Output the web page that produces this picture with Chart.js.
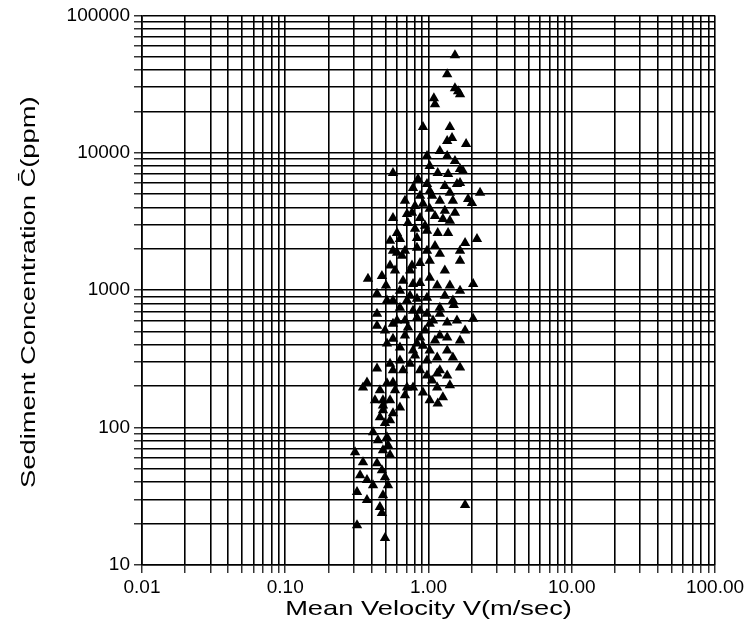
<!DOCTYPE html>
<html>
<head>
<meta charset="utf-8">
<script src="https://cdn.jsdelivr.net/npm/chart.js@4.4.1/dist/chart.umd.min.js"></script>
<style>
  html, body { margin: 0; padding: 0; background: #fff; }
  #wrap { width: 752px; height: 639px; position: relative; }
</style>
</head>
<body>
<div id="wrap"><canvas id="chart"></canvas></div>
<script>
// Mean velocity V (m/sec)
const velocity = [
  1.53, 1.35, 1.53, 1.61, 1.66, 1.09, 1.11, 0.915,
  1.41, 1.35, 1.46, 1.83, 0.976, 1.35, 0.565, 1.74,
  1.16, 1.37, 2.29, 2.01, 1.48, 0.780, 0.565, 0.708,
  1.66, 1.66, 1.58, 0.976, 1.89, 1.20, 0.915, 0.767,
  1.02, 0.719, 0.873, 1.16, 0.976, 0.831, 0.539, 0.632,
  1.80, 2.18, 1.66, 0.976, 0.603, 0.539, 1.66, 0.378,
  0.473, 0.664, 0.873, 1.02, 1.41, 2.05, 0.437, 1.48,
  1.50, 1.20, 2.05, 0.437, 0.437, 0.565, 0.719, 0.632,
  0.780, 0.976, 1.20, 1.35, 0.513, 0.632, 0.831, 1.02,
  1.15, 1.48, 0.976, 0.539, 0.437, 0.743, 1.66, 0.976,
  1.15, 1.35, 0.565, 0.372, 0.349, 0.458, 0.780, 1.15,
  0.539, 0.915, 1.26, 0.481, 0.565, 0.481, 0.632, 1.16,
  0.458, 0.539, 0.410, 0.513, 0.522, 0.481, 0.307, 0.349,
  0.437, 0.473, 0.497, 0.372, 0.317, 0.481, 0.372, 0.458,
  0.473, 1.80, 0.317, 0.497, 0.565, 0.653, 0.831, 1.02,
  1.20, 0.780, 0.632, 0.513, 0.708, 0.976, 1.20, 0.603,
  0.831, 1.02, 1.58, 0.873, 1.35, 0.565, 1.20, 0.513,
  0.708, 0.481, 1.02, 1.30, 1.11, 0.873, 0.805, 1.30,
  0.946, 1.41, 0.685, 0.767, 1.30, 0.685, 0.915, 1.11,
  0.805, 0.632, 1.06, 0.873, 0.743,
  0.845, 1.06, 1.41, 0.685, 1.26, 1.53, 0.805, 1.11,
  1.37, 0.603, 0.505, 0.584, 0.743, 0.873, 1.15, 1.30,
  1.66, 0.831, 0.565, 0.497, 0.565, 0.685, 0.780, 0.946,
  1.075, 1.35, 1.66, 1.80, 0.664, 0.873, 1.41, 0.584,
  1.02, 0.685, 0.423, 0.497, 0.444, 0.539, 0.410, 0.522,
  0.333, 1.20, 1.02, 1.53
];
// Sediment concentration C (ppm), same order
const concentration = [
  51300, 37300, 29500, 28100, 26700, 24900, 22600, 15400,
  15400, 12200, 12800, 11600, 9470, 9470, 7130, 7370,
  7130, 7010, 5110, 4320, 4470, 5550, 3360, 3590,
  7620, 6030, 5930, 5930, 4620, 4470, 4250, 3660,
  3910, 3090, 3360, 2610, 2710, 2400, 2290, 2360,
  2210, 2360, 1940, 1940, 1870, 1510, 1640, 1210,
  1270, 1170, 1130, 1230, 1080, 1110, 944, 840,
  780, 675, 621, 675, 552, 571, 535, 746,
  710, 675, 468, 452, 409, 383, 409, 364,
  324, 324, 308, 292, 269, 292, 274, 239,
  248, 239, 213, 213, 196, 187, 196, 196,
  158, 180, 166, 134, 127, 145, 140, 150,
  119, 113, 92.5, 85.1, 74.5, 68.4, 66.2, 56.0,
  55.1, 49.0, 43.6, 41.5, 34.0, 32.2, 29.7, 26.4,
  23.9, 27.3, 19.5, 15.7, 1940, 1780, 2040, 1640,
  1840, 1110, 992, 840, 840, 882, 746, 601,
  631, 571, 601, 452, 364, 261, 261, 210,
  196, 158, 5280, 5740, 3470, 4860, 4100, 3780,
  2940, 3200, 1940, 1510, 1390, 601, 395, 430,
  335, 308, 220, 710, 912,
  6440, 4860, 5110, 4470, 3300, 3660, 2800, 2100,
  2610, 2610, 1080, 1390, 1390, 1580, 1080, 912,
  992, 867, 840, 509, 444, 468, 364, 509,
  601, 581, 430, 509, 261, 261, 203, 187,
  158, 172, 158, 108, 80.9, 63.1, 38.1, 38.1,
  45.0, 10300, 8020, 8710
];

// grid lines at every 1..9 of each decade
const xTicks = [
  0.01, 0.02, 0.03, 0.04, 0.05, 0.06, 0.07, 0.08, 0.09,
  0.1, 0.2, 0.3, 0.4, 0.5, 0.6, 0.7, 0.8, 0.9,
  1, 2, 3, 4, 5, 6, 7, 8, 9,
  10, 20, 30, 40, 50, 60, 70, 80, 90, 100
];
const yTicks = [
  10, 20, 30, 40, 50, 60, 70, 80, 90,
  100, 200, 300, 400, 500, 600, 700, 800, 900,
  1000, 2000, 3000, 4000, 5000, 6000, 7000, 8000, 9000,
  10000, 20000, 30000, 40000, 50000, 60000, 70000, 80000, 90000, 100000
];
const xLabels = { 0.01: "0.01", 0.1: "0.10", 1: "1.00", 10: "10.00", 100: "100.00" };
const yLabels = { 10: "10", 100: "100", 1000: "1000", 10000: "10000", 100000: "100000" };

const X_TITLE = "Mean Velocity V(m/sec)";
const Y_TITLE = "Sediment Concentration C\u0304(ppm)";

const points = velocity.map((v, i) => ({ x: v, y: concentration[i] }));

// axis titles drawn by hand: the original lettering is set wide
const TITLE_FONT = "21px 'Liberation Sans', Arial, sans-serif";
const TITLE_STRETCH = 1.3;
const titlePlugin = {
  id: "wideTitles",
  afterDraw(chart) {
    const ctx = chart.ctx;
    const area = chart.chartArea;
    ctx.save();
    ctx.fillStyle = "#000";
    ctx.font = TITLE_FONT;
    ctx.textAlign = "center";
    ctx.textBaseline = "middle";

    ctx.save();
    ctx.translate((area.left + area.right) / 2, 609);
    ctx.scale(TITLE_STRETCH, 1);
    ctx.fillText(X_TITLE, 0, 0);
    ctx.restore();

    ctx.translate(29, (area.top + area.bottom) / 2 + 2);
    ctx.rotate(-Math.PI / 2);
    ctx.scale(TITLE_STRETCH, 1);
    ctx.fillText(Y_TITLE, 0, 0);
    ctx.restore();
  }
};

const gridOpts = {
  color: "#000",
  lineWidth: 1.6,
  tickLength: 8,
  tickColor: "#000",
  tickWidth: 1.2
};

new Chart(document.getElementById("chart"), {
  type: "scatter",
  data: {
    datasets: [{
      data: points,
      pointStyle: "triangle",
      pointRadius: 6,
      pointHoverRadius: 6,
      backgroundColor: "#000",
      borderColor: "#000",
      borderWidth: 0
    }]
  },
  options: {
    responsive: true,
    maintainAspectRatio: false,
    animation: false,
    layout: { padding: { top: 14, right: 37, left: 0, bottom: 0 } },
    plugins: { legend: { display: false }, tooltip: { enabled: false } },
    scales: {
      x: {
        type: "logarithmic",
        min: 0.01,
        max: 100,
        afterBuildTicks: s => { s.ticks = xTicks.map(v => ({ value: v })); },
        afterFit: s => { s.height = 74; },
        grid: gridOpts,
        border: { color: "#000", width: 1.6 },
        ticks: {
          autoSkip: false,
          maxRotation: 0,
          padding: 3,
          color: "#000",
          font: { family: "'Liberation Sans', Arial, sans-serif", size: 19 },
          callback: v => xLabels[v] || ""
        }
      },
      y: {
        type: "logarithmic",
        min: 10,
        max: 100000,
        afterBuildTicks: s => { s.ticks = yTicks.map(v => ({ value: v })); },
        afterFit: s => { s.width = 142; },
        grid: gridOpts,
        border: { color: "#000", width: 1.6 },
        ticks: {
          autoSkip: false,
          padding: 4,
          color: "#000",
          font: { family: "'Liberation Sans', Arial, sans-serif", size: 19 },
          callback: v => yLabels[v] || ""
        }
      }
    }
  },
  plugins: [titlePlugin]
});
</script>
</body>
</html>
